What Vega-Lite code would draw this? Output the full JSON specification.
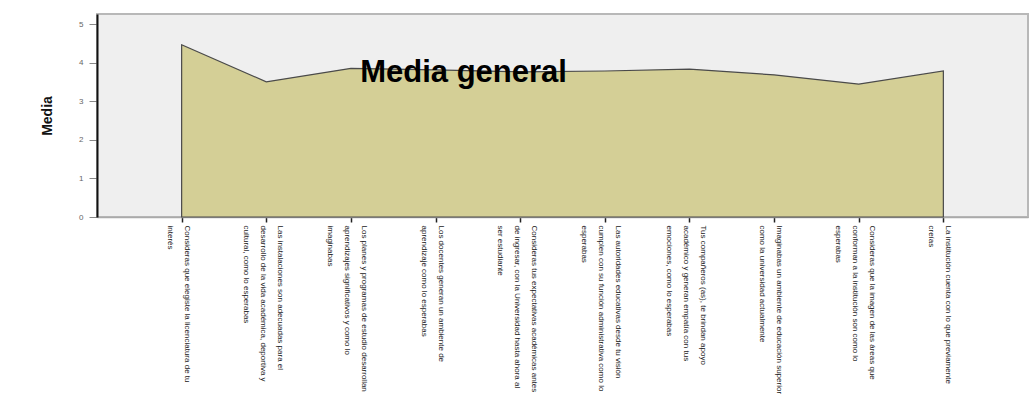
{
  "$schema": "https://vega.github.io/schema/vega-lite/v6.json",
  "width": 931,
  "height": 203,
  "autosize": {"type": "none"},
  "padding": {"left": 97, "top": 14, "right": 7, "bottom": 187},
  "background": "white",
  "config": {
    "view": {"fill": "#EFEFEF", "stroke": "#b8b8b8", "strokeWidth": 2},
    "font": "Liberation Sans"
  },
  "data": {
    "values": [
      {"pregunta": "Consideras que elegiste la licenciatura de tu|interés", "media": 4.47},
      {"pregunta": "Las instalaciones son adecuadas para el|desarrollo de la vida académica, deportiva y|cultural, como lo esperabas", "media": 3.51},
      {"pregunta": "Los planes y programas de estudio desarrollan|aprendizajes significativos y como lo|imaginabas", "media": 3.86},
      {"pregunta": "Los docentes generan un ambiente de|aprendizaje como lo esperabas", "media": 3.82},
      {"pregunta": "Consideras tus expectativas académicas antes|de ingresar, con la Universidad hasta ahora al|ser estudiante", "media": 3.77},
      {"pregunta": "Las autoridades educativas desde tu visión|cumplen con su función administrativa como lo|esperabas", "media": 3.79},
      {"pregunta": "Tus compañeros (as), te brindan apoyo|académico y generan empatía con tus|emociones, como lo esperabas", "media": 3.84},
      {"pregunta": "Imaginabas un ambiente de educación superior|como la universidad actualmente", "media": 3.69},
      {"pregunta": "Consideras que la imagen de las áreas que|conforman a la institución son como lo|esperabas", "media": 3.45},
      {"pregunta": "La institución cuenta con lo que previamente|creías", "media": 3.79}
    ]
  },
  "layer": [
    {
      "mark": {"type": "area", "color": "#D4CF96", "fillOpacity": 1, "stroke": "#4a4a4a", "strokeWidth": 1.2},
      "encoding": {
        "x": {
          "field": "pregunta", "type": "nominal", "sort": null,
          "scale": {"type": "point", "padding": 1.055},
          "axis": {
            "title": null, "labelAngle": 90,
            "labelExpr": "split(datum.label, '|')",
            "labelFont": "Liberation Sans", "labelFontSize": 8, "labelLineHeight": 17,
            "labelColor": "#222", "labelLimit": 0, "labelPadding": 3, "labelOverlap": false,
            "labelOffset": {"expr": "(length(split(datum.label, '|')) - 1) * 8.5 - 4"},
            "tickColor": "#222", "tickSize": 5, "tickWidth": 1.5,
            "domainColor": "#aaaaaa", "domainWidth": 1.5
          }
        },
        "y": {
          "field": "media", "type": "quantitative",
          "scale": {"domain": [0, 5.27], "nice": false},
          "axis": {
            "title": "Media", "titleFont": "Liberation Sans", "titleFontSize": 14,
            "titleFontWeight": "bold", "titleColor": "#111", "titlePadding": 24,
            "values": [0, 1, 2, 3, 4, 5], "labelColor": "#666", "labelFontSize": 8,
            "labelPadding": 6, "tickSize": 8, "tickColor": "#888", "grid": false,
            "domainColor": "#111", "domainWidth": 2
          }
        }
      }
    },
    {
      "data": {"values": [{"t": "Media general"}]},
      "mark": {"type": "text", "font": "Liberation Sans", "fontWeight": "bold", "fontSize": 31, "color": "#000", "align": "center", "baseline": "alphabetic", "dx": 28},
      "encoding": {
        "x": {"datum": "Los docentes generan un ambiente de|aprendizaje como lo esperabas", "type": "nominal"},
        "y": {"datum": 3.5, "type": "quantitative"},
        "text": {"field": "t", "type": "nominal"}
      }
    }
  ]
}
